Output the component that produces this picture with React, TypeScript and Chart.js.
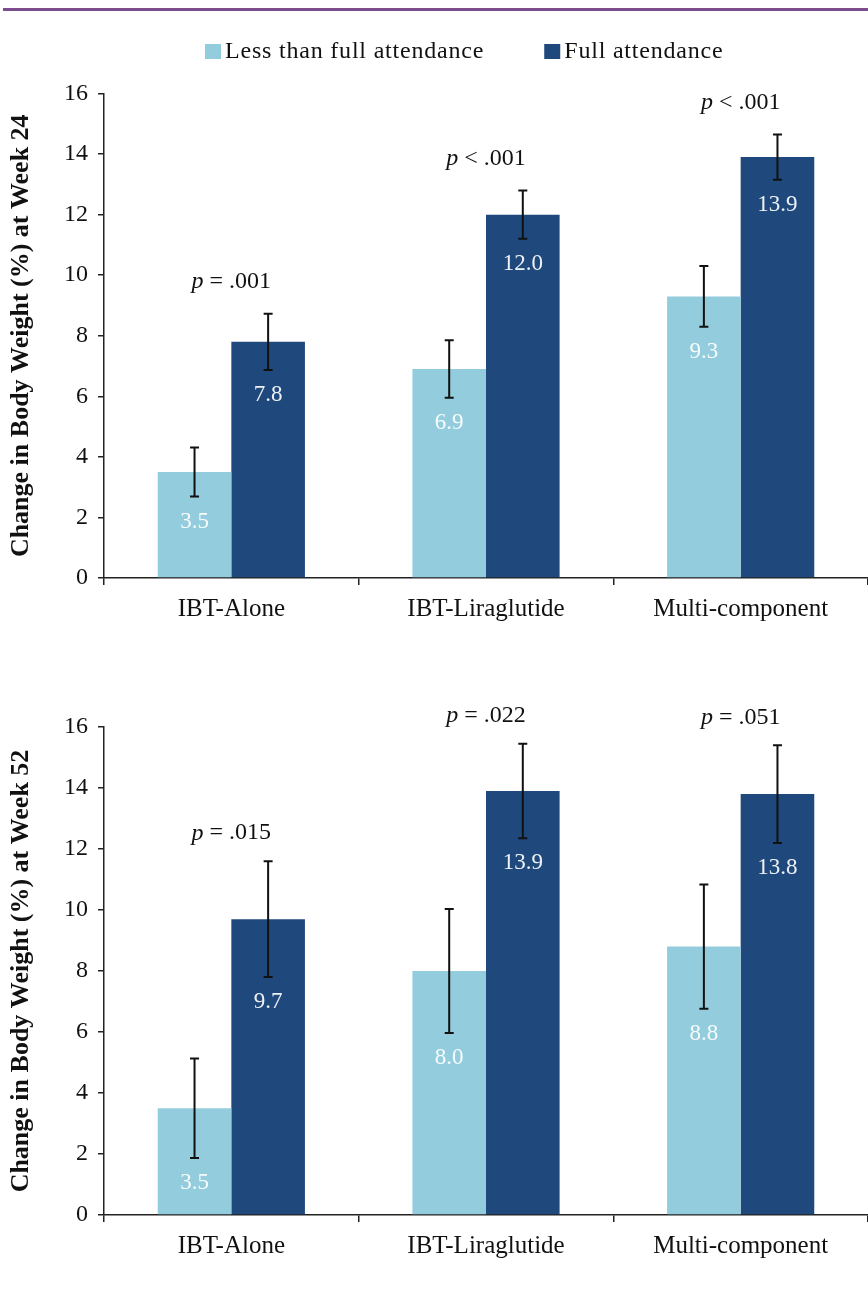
import React, { useEffect, useRef } from 'react';
import { Chart, registerables } from 'chart.js';

Chart.register(...registerables);

// ---------- data ----------
const categories = ['IBT-Alone', 'IBT-Liraglutide', 'Multi-component'];
const seriesNames = ['Less than full attendance', 'Full attendance'];
const seriesColors = ['#93cddd', '#1f497d'];

const week24Less = [3.5, 6.9, 9.3];
const week24LessErr = [0.81, 0.95, 1.0];
const week24Full = [7.8, 12.0, 13.9];
const week24FullErr = [0.93, 0.8, 0.75];
const week24P = ['p = .001', 'p < .001', 'p < .001'];
const week24Title = 'Change in Body Weight (%) at Week 24';

const week52Less = [3.5, 8.0, 8.8];
const week52LessErr = [1.63, 2.03, 2.04];
const week52Full = [9.7, 13.9, 13.8];
const week52FullErr = [1.9, 1.55, 1.6];
const week52P = ['p = .015', 'p = .022', 'p = .051'];
const week52Title = 'Change in Body Weight (%) at Week 52';

const yMin = 0;
const yMax = 16;
const yStep = 2;

const FONT = '"Liberation Serif", "Times New Roman", serif';

// ---------- plugins ----------
const annotPlugin = {
  id: 'annot',
  afterDatasetsDraw(chart: any, _args: any, opts: any) {
    const { ctx } = chart;
    const x = chart.scales.x;
    const y = chart.scales.y;
    const errs: number[][] = opts.errors;
    ctx.save();
    chart.data.datasets.forEach((ds: any, di: number) => {
      const meta = chart.getDatasetMeta(di);
      meta.data.forEach((el: any, i: number) => {
        const v = ds.data[i];
        const e = errs[di][i];
        const yt = y.getPixelForValue(v + e);
        const yb = y.getPixelForValue(v - e);
        ctx.strokeStyle = '#111';
        ctx.lineWidth = 2;
        ctx.beginPath();
        ctx.moveTo(el.x, yt);
        ctx.lineTo(el.x, yb);
        ctx.moveTo(el.x - 4.5, yt);
        ctx.lineTo(el.x + 4.5, yt);
        ctx.moveTo(el.x - 4.5, yb);
        ctx.lineTo(el.x + 4.5, yb);
        ctx.stroke();
        ctx.fillStyle = 'rgba(255,255,255,0.92)';
        ctx.font = `23px ${FONT}`;
        ctx.textAlign = 'center';
        ctx.textBaseline = 'middle';
        ctx.fillText(v.toFixed(1), el.x, yb + 25);
      });
    });
    const pLabels: string[] = opts.pLabels;
    pLabels.forEach((t, i) => {
      const top = Math.min(
        ...chart.data.datasets.map((ds: any, di: number) =>
          y.getPixelForValue(ds.data[i] + errs[di][i])
        )
      );
      const cx = x.getPixelForValue(i);
      const cy = top - opts.pGap;
      const first = t.charAt(0);
      const rest = t.slice(1);
      ctx.textBaseline = 'middle';
      ctx.textAlign = 'left';
      ctx.fillStyle = '#111';
      ctx.font = `italic 24px ${FONT}`;
      const w1 = ctx.measureText(first).width;
      ctx.font = `24px ${FONT}`;
      const w2 = ctx.measureText(rest).width;
      const sx = cx - (w1 + w2) / 2;
      ctx.font = `italic 24px ${FONT}`;
      ctx.fillText(first, sx, cy);
      ctx.font = `24px ${FONT}`;
      ctx.fillText(rest, sx + w1, cy);
    });
    ctx.restore();
  },
};

const legendPlugin = {
  id: 'customLegend',
  afterDraw(chart: any, _args: any, opts: any) {
    if (!opts || !opts.show) return;
    const { ctx } = chart;
    ctx.save();
    ctx.font = `24px ${FONT}`;
    (ctx as any).letterSpacing = '0.8px';
    ctx.textBaseline = 'middle';
    ctx.textAlign = 'left';
    let cx = opts.x;
    const cy = opts.y;
    chart.data.datasets.forEach((ds: any) => {
      ctx.fillStyle = ds.backgroundColor;
      ctx.fillRect(cx, cy - 7.5, 16, 15);
      cx += 20;
      ctx.fillStyle = '#111';
      ctx.fillText(ds.label, cx, cy);
      cx += ctx.measureText(ds.label).width + opts.gap;
    });
    ctx.restore();
  },
};

// ---------- chart component ----------
type PanelProps = {
  less: number[];
  lessErr: number[];
  full: number[];
  fullErr: number[];
  pLabels: string[];
  title: string;
  height: number;
  padTop: number;
  axisHeight: number;
  pGap: number;
  showLegend: boolean;
};

function Panel(props: PanelProps) {
  const ref = useRef<HTMLCanvasElement | null>(null);
  useEffect(() => {
    if (!ref.current) return;
    const chart = new Chart(ref.current, {
      type: 'bar',
      data: {
        labels: categories,
        datasets: [
          {
            label: seriesNames[0],
            data: props.less,
            backgroundColor: seriesColors[0],
            borderWidth: 0,
          },
          {
            label: seriesNames[1],
            data: props.full,
            backgroundColor: seriesColors[1],
            borderWidth: 0,
          },
        ],
      },
      options: {
        animation: false,
        responsive: false,
        maintainAspectRatio: false,
        datasets: { bar: { categoryPercentage: 0.578, barPercentage: 1 } },
        layout: { padding: { top: props.padTop, left: 0, right: 0, bottom: 0 } },
        plugins: {
          legend: { display: false },
          tooltip: { enabled: false },
          annot: {
            errors: [props.lessErr, props.fullErr],
            pLabels: props.pLabels,
            pGap: props.pGap,
          },
          customLegend: { show: props.showLegend, x: 205, y: 51.5, gap: 60 },
        } as any,
        scales: {
          x: {
            type: 'category',
            grid: {
              drawOnChartArea: false,
              drawTicks: true,
              tickLength: 7,
              offset: true,
              color: '#222',
              lineWidth: 1.5,
            },
            border: { display: true, color: '#222', width: 1.5 },
            ticks: {
              color: '#111',
              font: { family: FONT, size: 25 },
              padding: 9,
              maxRotation: 0,
            },
            afterFit: (s: any) => {
              s.height = props.axisHeight;
            },
          },
          y: {
            min: yMin,
            max: yMax,
            ticks: {
              stepSize: yStep,
              color: '#111',
              font: { family: FONT, size: 24 },
              padding: 10,
            },
            grid: {
              drawOnChartArea: false,
              drawTicks: true,
              tickLength: 6,
              color: '#222',
              lineWidth: 1.5,
            },
            border: { display: true, color: '#222', width: 1.5 },
            title: {
              display: true,
              text: props.title,
              color: '#111',
              font: { family: FONT, size: 26, weight: 'bold' },
              padding: { top: 6, bottom: 0 },
            },
            afterFit: (s: any) => {
              s.width = 104;
            },
          },
        },
      },
      plugins: [annotPlugin, legendPlugin],
    });
    return () => chart.destroy();
  }, []);
  return (
    <canvas
      ref={ref}
      width={868}
      height={props.height}
      style={{ display: 'block', width: 868, height: props.height }}
    />
  );
}

export default function App() {
  return (
    <div
      style={{
        position: 'absolute',
        left: 0,
        top: 0,
        width: 868,
        height: 1291,
        overflow: 'hidden',
        background: '#fff',
      }}
    >
      <div
        style={{
          position: 'absolute',
          left: 3,
          right: 0,
          top: 8,
          height: 3,
          background: '#7b4d8c',
        }}
      />
      <div style={{ position: 'absolute', left: 0, top: 0 }}>
        <Panel
          less={week24Less}
          lessErr={week24LessErr}
          full={week24Full}
          fullErr={week24FullErr}
          pLabels={week24P}
          title={week24Title}
          height={650}
          padTop={93.5}
          axisHeight={72}
          pGap={32}
          showLegend={true}
        />
      </div>
      <div style={{ position: 'absolute', left: 0, top: 650 }}>
        <Panel
          less={week52Less}
          lessErr={week52LessErr}
          full={week52Full}
          fullErr={week52FullErr}
          pLabels={week52P}
          title={week52Title}
          height={641}
          padTop={77}
          axisHeight={76}
          pGap={28}
          showLegend={false}
        />
      </div>
    </div>
  );
}
